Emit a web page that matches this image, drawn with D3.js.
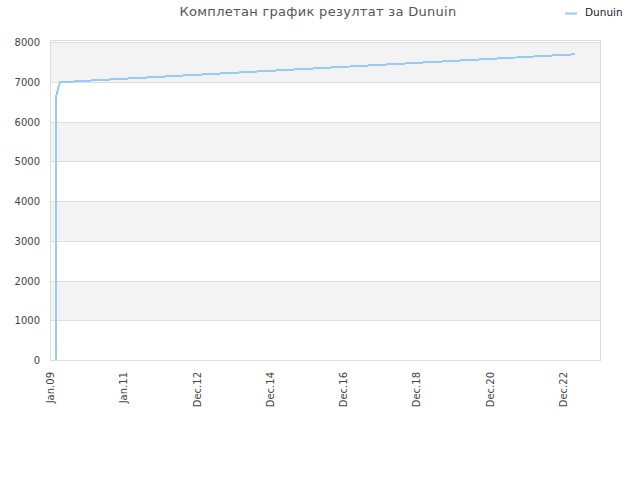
<!DOCTYPE html>
<html>
<head>
<meta charset="UTF-8">
<title>Комплетан график резултат за Dunuin</title>
<script src="https://d3js.org/d3.v7.min.js"></script>
<style>
  body { margin: 0; background: #fff; font-family: "DejaVu Sans", Verdana, sans-serif; }
  .lbl { font-size: 10px; fill: #444; }
</style>
</head>
<body>
<svg id="chart" width="640" height="480"></svg>
<script>
  // data
  var playerName = "Dunuin";
  var scoreDates = ["2009-03-01", "2009-03-05", "2009-03-20", "2009-04-10", "2010-01-01", "2011-01-01",
    "2012-01-01", "2013-01-01", "2014-01-01", "2015-01-01", "2016-01-01", "2017-01-01",
    "2018-01-01", "2019-01-01", "2020-01-01", "2021-01-01", "2022-01-01", "2023-01-01", "2023-04-25"];
  var scoreValues = [0, 6650, 6820, 6985, 7025, 7075, 7125, 7175, 7225, 7275, 7325, 7375,
    7425, 7475, 7525, 7575, 7625, 7675, 7690];
  var tickDates = ["2009-01-01", "2010-12-31", "2012-12-31", "2014-12-31", "2016-12-30",
    "2018-12-30", "2020-12-29", "2022-12-29"];
  var tickLabels = ["Jan.09", "Jan.11", "Dec.12", "Dec.14", "Dec.16", "Dec.18", "Dec.20", "Dec.22"];
  var yTicks = [0, 1000, 2000, 3000, 4000, 5000, 6000, 7000, 8000];

  var parse = d3.timeParse("%Y-%m-%d");
  var plotLeft = 50, plotRight = 600, plotTop = 42, plotBottom = 360;

  var svg = d3.select("#chart");

  var x = d3.scaleTime()
    .domain([parse("2008-12-31"), parse("2024-01-03")])
    .range([plotLeft, plotRight]);
  var y = d3.scaleLinear().domain([0, 8000]).range([plotBottom, plotTop]);

  // title
  svg.append("text")
    .attr("x", 318).attr("y", 16)
    .attr("text-anchor", "middle")
    .style("font-size", "13px").style("fill", "#555")
    .style("letter-spacing", "0.3px")
    .text("Комплетан график резултат за " + playerName);

  // legend
  svg.append("line")
    .attr("x1", 565).attr("x2", 577).attr("y1", 13.5).attr("y2", 13.5)
    .style("stroke", "#99c9f5").style("stroke-width", 2);
  svg.append("text")
    .attr("x", 585).attr("y", 16)
    .style("font-size", "10.5px").style("fill", "#222")
    .text(playerName);

  // alternating bands
  var bands = d3.range(0, yTicks.length - 1);
  svg.selectAll("rect.band").data(bands).enter().append("rect")
    .attr("class", "band")
    .attr("x", plotLeft)
    .attr("width", plotRight - plotLeft)
    .attr("y", d => y(yTicks[d + 1]))
    .attr("height", d => y(yTicks[d]) - y(yTicks[d + 1]))
    .style("fill", d => d % 2 == 1 ? "#f3f3f3" : "#fff");

  // grid lines
  svg.selectAll("line.grid").data(yTicks).enter().append("line")
    .attr("class", "grid")
    .attr("x1", plotLeft).attr("x2", plotRight)
    .attr("y1", d => Math.round(y(d)) + 0.5).attr("y2", d => Math.round(y(d)) + 0.5)
    .style("stroke", "#dddddd");

  // frame
  svg.append("rect")
    .attr("x", plotLeft + 0.5).attr("y", plotTop - 2 + 0.5)
    .attr("width", plotRight - plotLeft).attr("height", plotBottom - plotTop + 2)
    .style("fill", "none").style("stroke", "#dddddd");

  // y labels
  svg.selectAll("text.ylab").data(yTicks).enter().append("text")
    .attr("class", "lbl ylab")
    .attr("x", 40).attr("y", d => y(d) + 4)
    .attr("text-anchor", "end")
    .text(d => d);

  // x labels
  svg.selectAll("text.xlab").data(tickDates).enter().append("text")
    .attr("class", "lbl xlab")
    .attr("transform", d => "translate(" + (x(parse(d)) + 4) + ",372) rotate(-90)")
    .attr("text-anchor", "end")
    .text((d, i) => tickLabels[i]);

  // score line
  var points = scoreDates.map((d, i) => [parse(d), scoreValues[i]]);
  var line = d3.line().x(d => x(d[0])).y(d => y(d[1]));
  svg.append("path")
    .datum(points)
    .attr("d", line)
    .style("fill", "none")
    .style("stroke", "#99c9f5")
    .style("stroke-width", 2)
    .style("shape-rendering", "crispEdges");
</script>
</body>
</html>
